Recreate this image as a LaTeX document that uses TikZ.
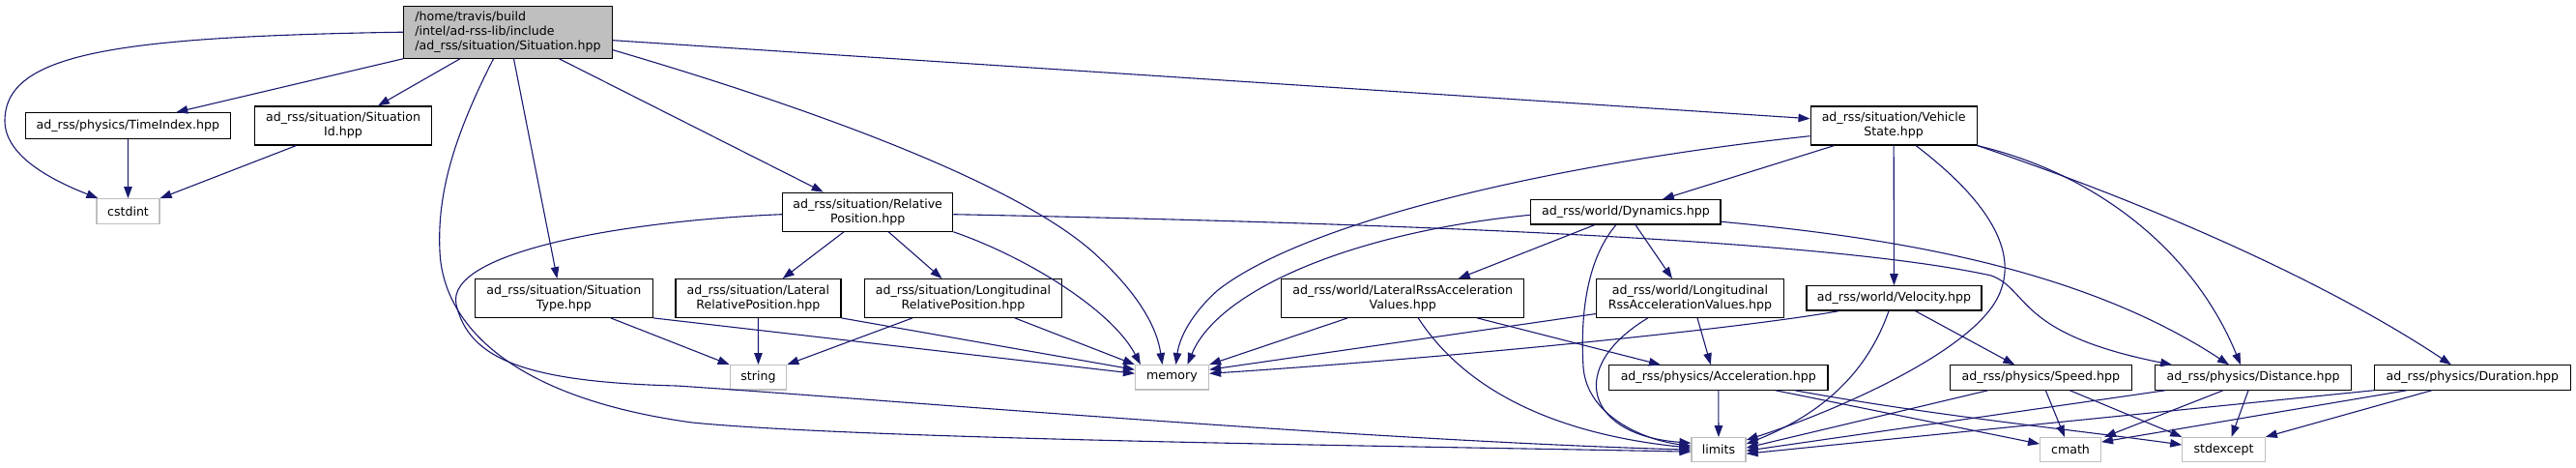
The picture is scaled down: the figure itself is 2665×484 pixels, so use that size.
\documentclass[tikz,border=0pt]{standalone}
\usepackage{fontspec}
\setmainfont{DejaVu Sans}
\usetikzlibrary{arrows.meta,calc}
\definecolor{edgecol}{HTML}{191970}
\definecolor{grey75}{HTML}{BFBFBF}
\begin{document}
\begin{tikzpicture}[x=1pt,y=-1pt,
  box/.style={draw=black, fill=white, line width=1.2pt, inner sep=0pt, align=center, font=\fontsize{12.6}{15}\selectfont},
  ext/.style={box, draw=grey75},
  conn/.style={draw=edgecol, line width=1.1pt, -{Triangle[length=12pt,width=8.5pt]}}
]
\useasboundingbox[fill=white] (0,0) rectangle (2665,484);

% nodes
\node[box, fill=grey75, minimum width=216, minimum height=54, align=left] (sit) at (525.5,33.2) {/home/travis/build\\/intel/ad-rss-lib/include\\/ad\_rss/situation/Situation.hpp};
\node[box, minimum width=212, minimum height=26.6] (timeidx) at (132.3,130) {ad\_rss/physics/TimeIndex.hpp};
\node[box, minimum width=183.6, minimum height=40] (sitid) at (355,130) {ad\_rss/situation/Situation\\Id.hpp};
\node[ext, minimum width=65, minimum height=25.6] (cstdint) at (132.5,218.5) {cstdint};
\node[box, minimum width=176, minimum height=40] (relpos) at (897.7,219.2) {ad\_rss/situation/Relative\\Position.hpp};
\node[box, minimum width=172, minimum height=40] (vehstate) at (1959.1,130) {ad\_rss/situation/Vehicle\\State.hpp};
\node[box, minimum width=196.3, minimum height=25.3] (dynamics) at (1681.9,219.3) {ad\_rss/world/Dynamics.hpp};
\node[box, minimum width=184, minimum height=39.6] (sittype) at (583.4,308.5) {ad\_rss/situation/Situation\\Type.hpp};
\node[box, minimum width=171, minimum height=39.6] (latrelpos) at (784.4,308.5) {ad\_rss/situation/Lateral\\RelativePosition.hpp};
\node[box, minimum width=203.5, minimum height=39.6] (lonrelpos) at (996.5,308.5) {ad\_rss/situation/Longitudinal\\RelativePosition.hpp};
\node[box, minimum width=251, minimum height=39.6] (latrss) at (1451.2,308.5) {ad\_rss/world/LateralRssAcceleration\\Values.hpp};
\node[box, minimum width=193.6, minimum height=39.6] (lonrss) at (1748.5,308.5) {ad\_rss/world/Longitudinal\\RssAccelerationValues.hpp};
\node[box, minimum width=181, minimum height=25.3] (velocity) at (1959.5,308.4) {ad\_rss/world/Velocity.hpp};
\node[ext, minimum width=58.5, minimum height=25.3] (string) at (784.5,390.3) {string};
\node[ext, minimum width=76, minimum height=25.3] (memory) at (1212.5,390.3) {memory};
\node[box, minimum width=226.5, minimum height=25.3] (accel) at (1777.8,390.5) {ad\_rss/physics/Acceleration.hpp};
\node[box, minimum width=188, minimum height=25.3] (speed) at (2111.3,390.5) {ad\_rss/physics/Speed.hpp};
\node[box, minimum width=202.6, minimum height=25.3] (distance) at (2331,390.5) {ad\_rss/physics/Distance.hpp};
\node[box, minimum width=203, minimum height=25.3] (duration) at (2557.9,390.5) {ad\_rss/physics/Duration.hpp};
\node[ext, minimum width=56, minimum height=25] (limits) at (1778,465.2) {limits};
\node[ext, minimum width=62.8, minimum height=25] (cmath) at (2142,465.1) {cmath};
\node[ext, minimum width=85.4, minimum height=25] (stdexcept) at (2300.5,465) {stdexcept};

% edges from Situation.hpp
\draw[conn] (sit.west) .. controls (120,38) and (5,55) .. (5,125) .. controls (5,160) and (50,185) .. ($(cstdint.north west)+(2,0)$);
\draw[conn] (sit.south west) -- ($(timeidx.north)+(50,0)$);
\draw[conn] ($(sit.south west)+(59,0)$) -- ($(sitid.north)+(36,0)$);
\draw[conn] ($(sit.south)+(6,0)$) -- ($(sittype.north)+(-7,0)$);
\draw[conn] ($(sit.south)+(-15,0)$) .. controls (470,140) and (452,200) .. (455,260) .. controls (458,330) and (520,410) .. (716,437) .. controls (900,455) and (1500,462) .. ($(limits.west)+(0,2)$);
\draw[conn] ($(sit.south)+(53,0)$) -- ($(relpos.north)+(-46,0)$);
\draw[conn] ($(sit.east)+(0,18.5)$) .. controls (850,115) and (1050,190) .. (1130,260) .. controls (1180,305) and (1197,340) .. ($(memory.north)+(-10,0)$);
\draw[conn] ($(sit.east)+(0,8.5)$) -- ($(vehstate.west)+(0,-7.3)$);

\draw[conn] (timeidx) -- (cstdint);
\draw[conn] ($(sitid.south)+(-48.6,0)$) -- (cstdint.north east);

\draw[conn] ($(sittype.south)+(48.4,0)$) -- (string.north west);
\draw[conn] (sittype.south east) -- ($(memory.west)+(0,-4)$);

% RelativePosition
\draw[conn] ($(relpos.south)+(-24.7,0)$) -- ($(latrelpos.north)+(25.3,0)$);
\draw[conn] ($(relpos.south)+(21.5,0)$) -- ($(lonrelpos.north)+(-22,0)$);
\draw[conn] (relpos.south east) .. controls (1060,265) and (1150,320) .. ($(memory.north west)+(6,0)$);
\draw[conn] ($(relpos.west)+(0,2.5)$) .. controls (650,228) and (460,260) .. (472,315) .. controls (485,370) and (540,395) .. (700,399) .. controls (900,412) and (1400,455) .. (limits.west);
\draw[conn] ($(relpos.east)+(0,2.5)$) .. controls (1500,232) and (1900,250) .. (2060,285) .. controls (2100,300) and (2085,345) .. ($(distance.north west)+(18,0)$);

\draw[conn] (latrelpos.south) -- (string.north);
\draw[conn] (latrelpos.south east) -- ($(memory.west)+(0,-8)$);
\draw[conn] ($(lonrelpos.south)+(-52.5,0)$) -- (string.north east);
\draw[conn] ($(lonrelpos.south east)+(-49,0)$) -- (memory.north west);

% VehicleState
\draw[conn] ($(vehstate.south west)+(25,0)$) -- ($(dynamics.north)+(38,0)$);
\draw[conn] (vehstate) -- (velocity);
\draw[conn] ($(vehstate.west)+(0,10.7)$) .. controls (1600,170) and (1350,230) .. (1260,300) .. controls (1232,325) and (1220,350) .. ($(memory.north)+(4,0)$);
\draw[conn] ($(vehstate.south)+(23,0)$) .. controls (2060,210) and (2085,260) .. (2070,300) .. controls (2050,360) and (1900,425) .. ($(limits.north east)+(0,3)$);
\draw[conn] (vehstate.south east) .. controls (2170,180) and (2270,260) .. ($(distance.north)+(-13,0)$);
\draw[conn] (vehstate.south east) .. controls (2250,220) and (2420,300) .. ($(duration.north)+(-22,0)$);

% Dynamics
\draw[conn] ($(dynamics.south)+(-32,0)$) -- ($(latrss.north)+(57.5,0)$);
\draw[conn] ($(dynamics.south)+(10,0)$) -- ($(lonrss.north)+(-18.5,0)$);
\draw[conn] ($(dynamics.south)+(-10,0)$) .. controls (1640,270) and (1635,330) .. (1638,380) .. controls (1642,430) and (1700,455) .. ($(limits.west)+(0,-4)$);
\draw[conn] ($(dynamics.west)+(0,3)$) .. controls (1400,240) and (1260,300) .. ($(memory.north)+(16,0)$);
\draw[conn] ($(dynamics.east)+(0,10)$) .. controls (1950,245) and (2150,275) .. ($(distance.north)+(-25,0)$);

% LateralRss
\draw[conn] ($(latrss.south)+(-57,0)$) -- (memory.north east);
\draw[conn] ($(latrss.south)+(16,0)$) .. controls (1520,410) and (1620,450) .. ($(limits.west)+(0,-2)$);
\draw[conn] ($(latrss.south)+(77,0)$) -- ($(accel.north west)+(54,0)$);

% LongitudinalRss
\draw[conn] ($(lonrss.west)+(0,16)$) -- ($(memory.east)+(0,-8)$);
\draw[conn] ($(lonrss.south)+(7.5,0)$) -- ($(accel.north)+(-8,0)$);
\draw[conn] ($(lonrss.south)+(-43.7,0)$) .. controls (1620,380) and (1640,450) .. ($(limits.west)+(0,-7)$);

% Velocity
\draw[conn] ($(velocity.south west)+(34,0)$) .. controls (1800,340) and (1500,370) .. ($(memory.east)+(0,-4)$);
\draw[conn] ($(velocity.south)+(22,0)$) -- ($(speed.north)+(-27,0)$);
\draw[conn] ($(velocity.south)+(-5.5,0)$) .. controls (1930,390) and (1880,430) .. ($(limits.east)+(0,-6)$);

% Acceleration
\draw[conn] (accel) -- (limits);
\draw[conn] ($(accel.south)+(59,0)$) -- ($(cmath.west)+(0,-6)$);
\draw[conn] ($(accel.south)+(79,0)$) .. controls (2000,430) and (2150,445) .. ($(stdexcept.west)+(0,-5)$);

% Speed
\draw[conn] ($(speed.south west)+(40,0)$) -- ($(limits.east)+(0,-2)$);
\draw[conn] ($(speed.south)+(5,0)$) -- ($(cmath.north)+(-6,0)$);
\draw[conn] ($(speed.south)+(30,0)$) -- (stdexcept.north west);

% Distance
\draw[conn] ($(distance.south west)+(11,0)$) -- ($(limits.east)+(0,1)$);
\draw[conn] ($(distance.south)+(-31,0)$) -- ($(cmath.north east)+(3,0)$);
\draw[conn] ($(distance.south)+(-5,0)$) -- ($(stdexcept.north)+(8,0)$);

% Duration
\draw[conn] (duration.south west) -- ($(limits.east)+(0,4)$);
\draw[conn] ($(duration.south west)+(34,0)$) -- ($(cmath.east)+(0,-8)$);
\draw[conn] ($(duration.south west)+(60,0)$) -- (stdexcept.north east);
\end{tikzpicture}
\end{document}
